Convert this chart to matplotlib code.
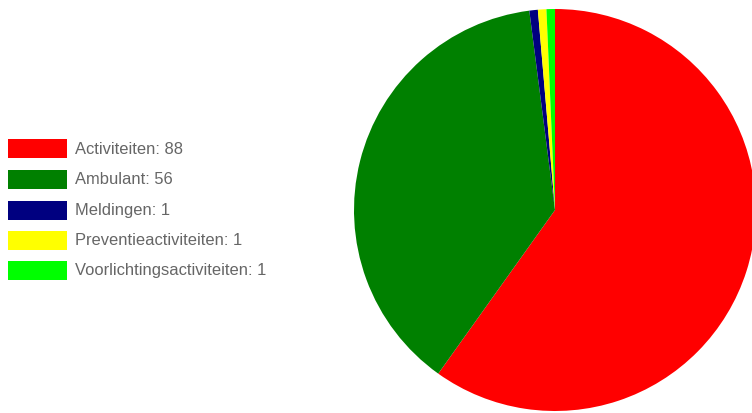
import matplotlib
matplotlib.use("Agg")
import matplotlib.pyplot as plt
from matplotlib.patches import Rectangle

categories = ["Activiteiten", "Ambulant", "Meldingen", "Preventieactiviteiten", "Voorlichtingsactiviteiten"]
values = [88, 56, 1, 1, 1]
colors = ["#ff0000", "#008000", "#000080", "#ffff00", "#00ff00"]

W, H = 752, 414
fig = plt.figure(figsize=(W / 100, H / 100), dpi=100)

# pie axes in pixel placement
cx, cy, r = 555, 211, 201
ax = fig.add_axes([(cx - r) / W, (H - cy - r) / H, 2 * r / W, 2 * r / H])
ax.pie(values, colors=colors, startangle=90, counterclock=False,
       wedgeprops=dict(linewidth=0), radius=1)
ax.set_xlim(-1, 1)
ax.set_ylim(-1, 1)
ax.set_aspect("equal")
ax.axis("off")

# legend
x0, x1 = 8, 67
row_y = [149.5, 180, 211, 241, 271]
bh = 19
for cat, val, col, y in zip(categories, values, colors, row_y):
    fig.patches.append(Rectangle((x0 / W, (H - y - bh / 2) / H), (x1 - x0) / W, bh / H,
                                 transform=fig.transFigure, facecolor=col,
                                 edgecolor="none", figure=fig))
    fig.text(75 / W, (H - y) / H, f"{cat}: {val}", fontsize=11.9,
             family="Liberation Sans", color="#666666", va="center", ha="left")

fig.savefig("out.png", dpi=100)
